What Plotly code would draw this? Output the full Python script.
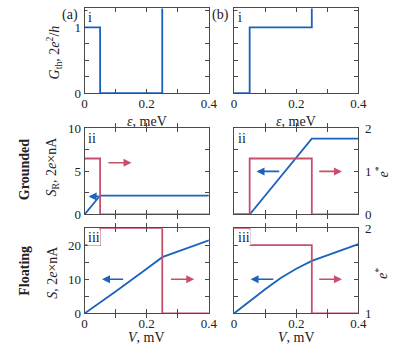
import plotly.graph_objects as go

# ---- data ----
eps = [0, 0.05, 0.25, 0.4]            # meV, step edges
G_a = [1, 0, 2, 2]                    # 2e^2/h  (goes off-scale after 0.25)
G_b = [0, 1, 2, 2]

V_r2 = [0, 0.05, 0.25, 0.4]
SR_a = [0, 2.2, 2.2, 2.2]             # 2e x nA
SR_b = [0, 0, 8.8, 8.8]
estar2_a = [1.3, 0, 0, 0]
estar2_b = [0, 1.3, 0, 0]

V_a3 = [0, 0.1, 0.2, 0.25, 0.4]
S_a = [0, 6.4, 13.1, 16.5, 21.4]
V_b3 = [0, 0.05, 0.1, 0.15, 0.2, 0.25, 0.4]
S_b = [0, 3.6, 7.1, 10.4, 13.1, 15.4, 20.3]
V_steps = [0, 0.05, 0.25, 0.4]
estar3_a = [1.8, 2, 1, 1]
estar3_b = [2, 1.8, 1, 1]

BLUE = '#1a62bd'
RED = '#c6506b'
FRAME = '#4a4a4a'
FONT = 'Liberation Serif'
W, H = 415, 353


def P(x, y):
    return x / W, 1 - y / H


colA = [84 / W, 212 / W]
colB = [238 / W, 366 / W]
row1 = [1 - 90 / H, 1 - 1.5 / H]
row2 = [1 - 216.7 / H, 1 - 126.7 / H]
row3 = [1 - 320 / H, 1 - 231 / H]

fig = go.Figure()
line_b = dict(color=BLUE, width=1.8)
line_r = dict(color=RED, width=1.8)

fig.add_trace(go.Scatter(x=eps, y=G_a, mode='lines', line=line_b, line_shape='hv', xaxis='x', yaxis='y'))
fig.add_trace(go.Scatter(x=eps, y=G_b, mode='lines', line=line_b, line_shape='hv', xaxis='x2', yaxis='y2'))

fig.add_trace(go.Scatter(x=V_r2, y=estar2_a, mode='lines', line=line_r, line_shape='hv', xaxis='x3', yaxis='y4'))
fig.add_trace(go.Scatter(x=V_r2, y=SR_a, mode='lines', line=line_b, xaxis='x3', yaxis='y3'))
fig.add_trace(go.Scatter(x=V_r2, y=estar2_b, mode='lines', line=line_r, line_shape='hv', xaxis='x4', yaxis='y6'))
fig.add_trace(go.Scatter(x=V_r2, y=SR_b, mode='lines', line=line_b, xaxis='x4', yaxis='y5'))

fig.add_trace(go.Scatter(x=V_steps, y=estar3_a, mode='lines', line=line_r, line_shape='hv', xaxis='x5', yaxis='y8'))
fig.add_trace(go.Scatter(x=V_a3, y=S_a, mode='lines', line=line_b, xaxis='x5', yaxis='y7'))
fig.add_trace(go.Scatter(x=V_steps, y=estar3_b, mode='lines', line=line_r, line_shape='hv', xaxis='x6', yaxis='y10'))
fig.add_trace(go.Scatter(x=V_b3, y=S_b, mode='lines', line=line_b, xaxis='x6', yaxis='y9'))

common = dict(showline=True, linecolor=FRAME, linewidth=1, ticks='inside', ticklen=4,
              tickcolor=FRAME, showgrid=False, zeroline=False,
              tickfont=dict(family=FONT, size=13, color='#222'))

xticks = dict(range=[0, 0.4], tickvals=[0, 0.1, 0.2, 0.3, 0.4], mirror='allticks',
              ticklabelstandoff=-2, **common)
xlab = ['0', '', '0.2', '', '0.4']
nolab = [''] * 5

lay = {}
lay['xaxis'] = dict(domain=colA, anchor='y', ticktext=xlab, **xticks)
lay['xaxis2'] = dict(domain=colB, anchor='y2', ticktext=xlab, **xticks)
lay['xaxis3'] = dict(domain=colA, anchor='y3', ticktext=nolab, **xticks)
lay['xaxis4'] = dict(domain=colB, anchor='y5', ticktext=nolab, **xticks)
lay['xaxis5'] = dict(domain=colA, anchor='y7', ticktext=xlab, **xticks)
lay['xaxis6'] = dict(domain=colB, anchor='y9', ticktext=xlab, **xticks)

y1 = dict(domain=row1, range=[0, 1.288], tickvals=[0, 0.25, 0.5, 0.75, 1, 1.25], mirror='allticks', **common)
lay['yaxis'] = dict(anchor='x', ticktext=['0', '', '', '', '1', ''], **y1)
lay['yaxis2'] = dict(anchor='x2', ticktext=[''] * 6, **y1)

y2l = dict(domain=row2, range=[0, 10], tickvals=[0, 2.5, 5, 7.5, 10], **common)
y2r = dict(range=[0, 2], tickvals=[0, 0.5, 1, 1.5, 2], side='right', ticklabelstandoff=3, **common)
lay['yaxis3'] = dict(anchor='x3', ticktext=['0', '', '5', '', '10'], **y2l)
lay['yaxis4'] = dict(anchor='x3', overlaying='y3', ticktext=nolab, **y2r)
lay['yaxis5'] = dict(anchor='x4', ticktext=nolab, **y2l)
lay['yaxis6'] = dict(anchor='x4', overlaying='y5', ticktext=['0', '', '1', '', '2'], **y2r)

y3l = dict(domain=row3, range=[0, 25], tickvals=[0, 5, 10, 15, 20, 25], **common)
y3r = dict(range=[1, 2], tickvals=[1, 1.2, 1.4, 1.6, 1.8, 2], side='right', ticklabelstandoff=3, **common)
lay['yaxis7'] = dict(anchor='x5', ticktext=['0', '', '10', '', '20', ''], **y3l)
lay['yaxis8'] = dict(anchor='x5', overlaying='y7', ticktext=[''] * 6, **y3r)
lay['yaxis9'] = dict(anchor='x6', ticktext=[''] * 6, **y3l)
lay['yaxis10'] = dict(anchor='x6', overlaying='y9', ticktext=['1', '', '', '', '', '2'], **y3r)

fig.update_layout(**lay)

ann = []
tf = dict(family=FONT, size=14, color='#222')


def txt(x, y, s, angle=0, **kw):
    px_, py_ = P(x, y)
    d = dict(x=px_, y=py_, xref='paper', yref='paper', text=s, showarrow=False,
             textangle=angle, font=tf, xanchor='center', yanchor='middle')
    d.update(kw)
    ann.append(d)


txt(53, 47, '<i>G</i><sub>th</sub>, 2<i>e</i><sup>2</sup>/<i>h</i>', -90)
txt(51, 167, '<i>S</i><sub>R</sub>, 2<i>e</i>×nA', -90)
txt(51, 277, '<i>S</i>, 2<i>e</i>×nA', -90)
txt(22, 170, '<b>Grounded</b>', -90)
txt(22, 275, '<b>Floating</b>', -90)
txt(390, 172, '<i>e</i><sup>*</sup>', -90)
txt(390, 278, '<i>e</i><sup>*</sup>', -90)
txt(148, 120, '<i>ε</i>, meV')
txt(302, 120, '<i>ε</i>, meV')
txt(148, 345.5, '<i>V</i>, mV')
txt(302, 345.5, '<i>V</i>, mV')
txt(69, 8, '(a)')
txt(224, 8, '(b)')

for x0, y0, s in [(87, 2, 'i'), (241, 2, 'i'), (87, 128, 'ii'), (241, 128, 'ii'), (87, 232, 'iii'), (241, 232, 'iii')]:
    txt(x0, y0, s, xanchor='left', yanchor='top', bgcolor='white', borderpad=0)

# arrows (head, tail) in left-axis data coords
arrows = [
    ('x3', 'y3', 0.151, 6.0, 0.072, 6.0, RED),
    ('x3', 'y3', 0.013, 2.1, 0.05, 2.1, BLUE),
    ('x4', 'y5', 0.072, 5.0, 0.15, 5.0, BLUE),
    ('x4', 'y5', 0.347, 5.0, 0.269, 5.0, RED),
    ('x5', 'y7', 0.056, 10.0, 0.129, 10.0, BLUE),
    ('x5', 'y7', 0.353, 10.0, 0.273, 10.0, RED),
    ('x6', 'y9', 0.053, 10.0, 0.131, 10.0, BLUE),
    ('x6', 'y9', 0.347, 10.0, 0.269, 10.0, RED),
]
for xr, yr, hx, hy, tx, ty, c in arrows:
    ann.append(dict(x=hx, y=hy, ax=tx, ay=ty, xref=xr, yref=yr, axref=xr, ayref=yr,
                    showarrow=True, arrowhead=2, arrowsize=1, arrowwidth=1.6,
                    arrowcolor=c, text=''))

fig.update_layout(annotations=ann, width=W, height=H, showlegend=False,
                  margin=dict(l=0, r=0, t=0, b=0),
                  paper_bgcolor='white', plot_bgcolor='white')
# the page's default 8px body margin would shift the figure
fig.write_html("out.html", config={'displayModeBar': False},
               post_script="document.body.style.margin='0';")
